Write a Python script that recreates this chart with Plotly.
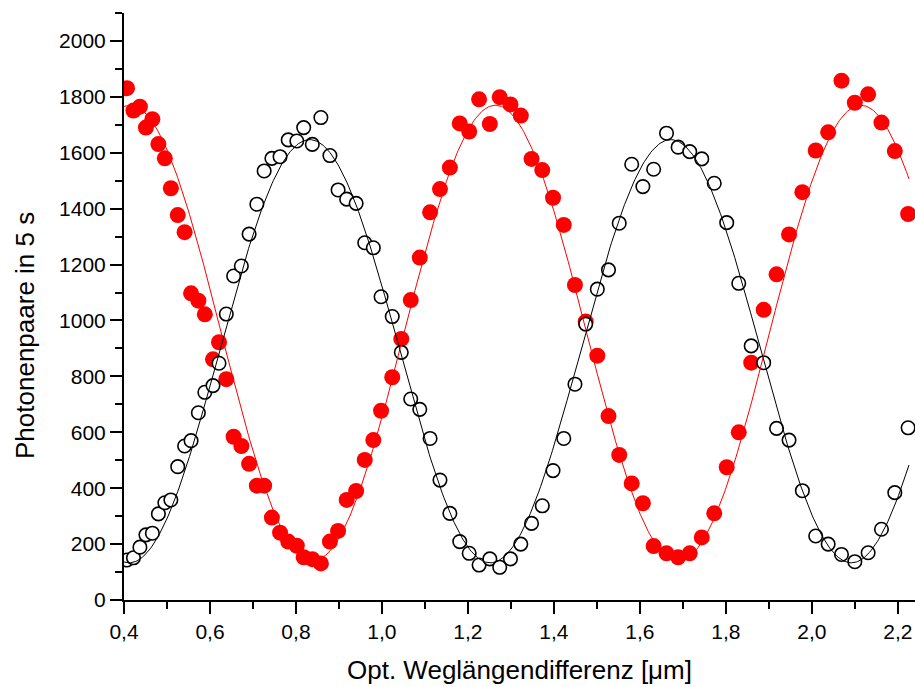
import numpy as np
import plotly.graph_objects as go

# Optical path length difference (µm), shared by both detectors
x_pos = [0.407, 0.422, 0.437, 0.451, 0.466, 0.480, 0.495, 0.509, 0.525, 0.541,
         0.556, 0.573, 0.588, 0.607, 0.621, 0.638, 0.655, 0.673, 0.691, 0.709,
         0.726, 0.744, 0.763, 0.782, 0.802, 0.818, 0.838, 0.858, 0.879, 0.898,
         0.918, 0.940, 0.960, 0.980, 0.998, 1.024, 1.045, 1.067, 1.088, 1.112,
         1.135, 1.158, 1.181, 1.203, 1.226, 1.251, 1.274, 1.299, 1.323, 1.348,
         1.373, 1.398, 1.423, 1.449, 1.474, 1.501, 1.527, 1.552, 1.581, 1.607,
         1.632, 1.662, 1.689, 1.716, 1.744, 1.773, 1.802, 1.830, 1.859, 1.888,
         1.918, 1.947, 1.978, 2.009, 2.038, 2.069, 2.100, 2.131, 2.162, 2.193,
         2.224]

# Photon pairs in 5 s — red (filled) detector
red_counts = [1831, 1751, 1765, 1690, 1720, 1631, 1580, 1473, 1377, 1316,
              1097, 1071, 1022, 861, 922, 790, 584, 551, 487, 409,
              409, 295, 241, 209, 194, 153, 146, 131, 209, 247,
              358, 390, 501, 572, 677, 797, 934, 1073, 1225, 1387,
              1470, 1547, 1705, 1676, 1791, 1703, 1799, 1773, 1733, 1578,
              1538, 1439, 1342, 1127, 996, 874, 658, 519, 417, 346,
              193, 167, 153, 167, 224, 310, 475, 600, 849, 1038,
              1165, 1308, 1459, 1608, 1673, 1858, 1779, 1809, 1708, 1606,
              1381]

# Photon pairs in 5 s — black (open) detector
black_counts = [143, 151, 189, 233, 239, 308, 348, 358, 477, 551,
                570, 670, 743, 767, 847, 1023, 1159, 1195, 1309, 1416,
                1535, 1580, 1586, 1646, 1642, 1690, 1630, 1726, 1590, 1467,
                1434, 1419, 1278, 1260, 1085, 1014, 886, 719, 682, 578,
                429, 310, 209, 167, 125, 147, 117, 147, 200, 274,
                337, 463, 578, 772, 987, 1112, 1181, 1348, 1559, 1479,
                1541, 1670, 1620, 1604, 1578, 1491, 1350, 1133, 909, 849,
                614, 572, 391, 229, 200, 163, 137, 169, 253, 384,
                616]

# Sine-fit parameters: offset, amplitude, period, position of a maximum
red_fit = dict(offset=955, amp=815, period=0.850, xmax=1.264)
black_fit = dict(offset=890, amp=757, period=0.840, xmax=0.832)

x_ticks = [0.4, 0.6, 0.8, 1.0, 1.2, 1.4, 1.6, 1.8, 2.0, 2.2]
x_ticklabels = ["0,4", "0,6", "0,8", "1,0", "1,2", "1,4", "1,6", "1,8", "2,0", "2,2"]
y_ticks = [0, 200, 400, 600, 800, 1000, 1200, 1400, 1600, 1800, 2000]
y_ticklabels = [str(v) for v in y_ticks]

x_fit = np.linspace(0.4, 2.226, 600)


def fit_curve(p):
    return p["offset"] + p["amp"] * np.cos(2 * np.pi * (x_fit - p["xmax"]) / p["period"])


FONT = "Liberation Sans, Arial, sans-serif"

fig = go.Figure()
fig.add_trace(go.Scatter(x=x_pos, y=red_counts, mode="markers",
                         marker=dict(symbol="circle", size=16, color="#ff0000",
                                     line=dict(width=0)),
                         showlegend=False))
fig.add_trace(go.Scatter(x=x_pos, y=black_counts, mode="markers",
                         marker=dict(symbol="circle", size=13.5, color="white",
                                     line=dict(width=1.6, color="black")),
                         showlegend=False))
fig.add_trace(go.Scatter(x=x_fit, y=fit_curve(red_fit), mode="lines",
                         line=dict(color="#ff0000", width=1), showlegend=False))
fig.add_trace(go.Scatter(x=x_fit, y=fit_curve(black_fit), mode="lines",
                         line=dict(color="black", width=1), showlegend=False))

axis_common = dict(showgrid=False, zeroline=False, showline=True, linecolor="black",
                   linewidth=2, ticks="outside", ticklen=12, tickwidth=2,
                   tickcolor="black", tickfont=dict(family=FONT, size=21, color="black"))

fig.update_xaxes(range=[0.4, 2.24], tickvals=x_ticks, ticktext=x_ticklabels,
                 minor=dict(dtick=0.1, tick0=0.4, ticks="outside", ticklen=7,
                            tickwidth=2, tickcolor="black"),
                 **axis_common)
fig.update_yaxes(range=[0, 2100], tickvals=y_ticks, ticktext=y_ticklabels,
                 minor=dict(dtick=100, tick0=0, ticks="outside", ticklen=7,
                            tickwidth=2, tickcolor="black"),
                 **axis_common)

fig.update_layout(
    width=915, height=687,
    margin=dict(l=124, r=0, t=13, b=87),
    paper_bgcolor="white", plot_bgcolor="white",
    font=dict(family=FONT, color="black"),
    annotations=[
        dict(text="Opt. Weglängendifferenz [μm]", xref="paper", yref="paper",
             x=0.5, y=-0.119, xanchor="center", yanchor="middle", showarrow=False,
             font=dict(family=FONT, size=26, color="black")),
        dict(text="Photonenpaare in 5 s", xref="paper", yref="paper",
             x=-0.125, y=0.45, xanchor="center", yanchor="middle", showarrow=False,
             textangle=-90, font=dict(family=FONT, size=26, color="black")),
    ],
)

fig.write_html("out.html")
